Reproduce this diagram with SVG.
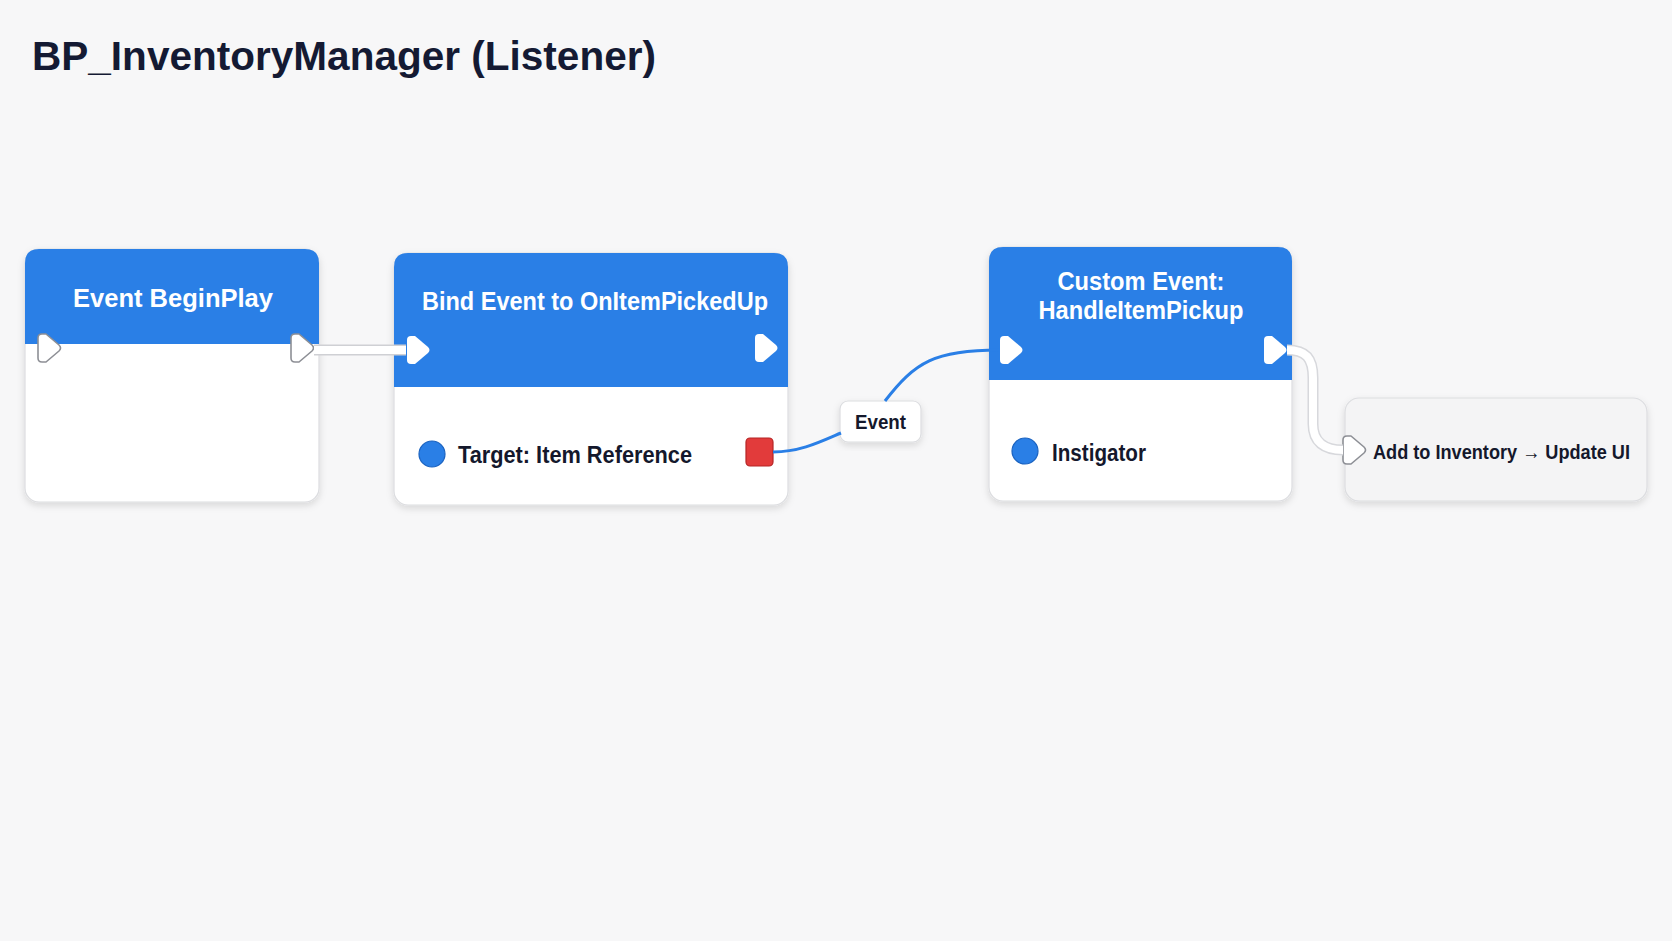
<svg xmlns="http://www.w3.org/2000/svg" width="1672" height="941" viewBox="0 0 1672 941">
<defs>
<filter id="sh" x="-10%" y="-10%" width="120%" height="130%">
<feDropShadow dx="0" dy="3" stdDeviation="3.5" flood-color="#000" flood-opacity="0.13"/>
</filter>
<path id="pin" d="M-11,-10 Q-11,-14 -7,-14 L-3,-14 L10,-3 Q13,0 10,3 L-3,14 L-7,14 Q-11,14 -11,10 Z"/>
</defs>
<style>
.bg{fill:#f7f7f8}
.body{fill:#ffffff;stroke:#dcdde0;stroke-width:1.2}
.hdr{fill:#2a7fe6}
.title{font-family:"Liberation Sans",Arial,sans-serif;font-size:26px;fill:#ffffff;text-anchor:middle;font-weight:600}
.lbl{font-family:"Liberation Sans",Arial,sans-serif;font-size:23px;fill:#14182c;font-weight:600}
.pin{fill:#ffffff;stroke:#8d8f95;stroke-width:1.6;stroke-linejoin:round}
.pinb{fill:#ffffff;stroke:none}
.dot{fill:#2a7fe6;stroke:#1b63c0;stroke-width:1.2}
</style>
<rect class="bg" x="0" y="0" width="1672" height="941"/>
<text x="32" y="70" font-family="Liberation Sans, Arial, sans-serif" font-size="41" font-weight="700" fill="#141a33" textLength="624" lengthAdjust="spacingAndGlyphs">BP_InventoryManager (Listener)</text>

<g id="node-beginplay">
<rect class="body" x="25" y="249" width="294" height="253" rx="14" filter="url(#sh)"/>
<path class="hdr" d="M25,344 L25,263 Q25,249 39,249 L305,249 Q319,249 319,263 L319,344 Z"/>
<text class="title" x="173" y="307" textLength="200" lengthAdjust="spacingAndGlyphs">Event BeginPlay</text>
<use href="#pin" class="pin" x="49" y="348"/>
<use href="#pin" class="pin" x="302" y="348"/>
</g>

<g id="node-bind">
<rect class="body" x="394" y="253" width="394" height="252" rx="14" filter="url(#sh)"/>
<path class="hdr" d="M394,387 L394,267 Q394,253 408,253 L774,253 Q788,253 788,267 L788,387 Z"/>
<text class="title" x="595" y="310" textLength="346" lengthAdjust="spacingAndGlyphs">Bind Event to OnItemPickedUp</text>
<use href="#pin" class="pinb" x="418" y="350"/>
<use href="#pin" class="pinb" x="766" y="348"/>
<circle class="dot" cx="432" cy="454" r="13"/>
<text class="lbl" x="458" y="463" textLength="234" lengthAdjust="spacingAndGlyphs">Target: Item Reference</text>
<rect x="746" y="438" width="27" height="28" rx="4" fill="#e23b3b" stroke="#b52525" stroke-width="1.2"/>
</g>

<g id="label-event">
<rect x="840" y="401" width="81" height="41" rx="8" fill="#ffffff" stroke="#dcdde0" stroke-width="1.2" filter="url(#sh)"/>
<text x="880.5" y="429" font-family="Liberation Sans, Arial, sans-serif" font-size="21" font-weight="600" fill="#14182c" text-anchor="middle" textLength="51" lengthAdjust="spacingAndGlyphs">Event</text>
</g>

<g id="node-custom">
<rect class="body" x="989" y="247" width="303" height="254" rx="14" filter="url(#sh)"/>
<path class="hdr" d="M989,380 L989,261 Q989,247 1003,247 L1278,247 Q1292,247 1292,261 L1292,380 Z"/>
<text class="title" x="1141" y="290" textLength="167" lengthAdjust="spacingAndGlyphs">Custom Event:</text>
<text class="title" x="1141" y="319" textLength="205" lengthAdjust="spacingAndGlyphs">HandleItemPickup</text>
<use href="#pin" class="pinb" x="1011" y="350"/>
<use href="#pin" class="pinb" x="1275" y="350"/>
<circle class="dot" cx="1025" cy="451" r="13"/>
<text class="lbl" x="1052" y="461" textLength="94" lengthAdjust="spacingAndGlyphs">Instigator</text>
</g>

<g id="node-add">
<rect x="1345" y="398" width="302" height="103" rx="14" fill="#f4f4f5" stroke="#dcdde0" stroke-width="1.2" filter="url(#sh)"/>
<use href="#pin" class="pin" x="1354" y="450"/>
<text x="1373" y="459" font-family="Liberation Sans, Arial, sans-serif" font-size="20" font-weight="600" fill="#14182c" textLength="257" lengthAdjust="spacingAndGlyphs">Add to Inventory → Update UI</text>
</g>

<g id="connectors">
<path d="M314,350 L406,350" fill="none" stroke="#cfd0d4" stroke-width="11"/>
<path d="M314,350 L406,350" fill="none" stroke="#ffffff" stroke-width="8"/>
<path d="M773,452 C800,452 820,442 841,433" fill="none" stroke="#2a7fe6" stroke-width="3"/>
<path d="M885,401 C915,362 935,350 999,350" fill="none" stroke="#2a7fe6" stroke-width="3"/>
<path d="M1287,350 C1306,350 1313,358 1313,378 L1313,424 C1313,442 1324,450 1343,450" fill="none" stroke="#d7d8dc" stroke-width="11"/>
<path d="M1287,350 C1306,350 1313,358 1313,378 L1313,424 C1313,442 1324,450 1343,450" fill="none" stroke="#ffffff" stroke-width="8"/>
</g>
</svg>
